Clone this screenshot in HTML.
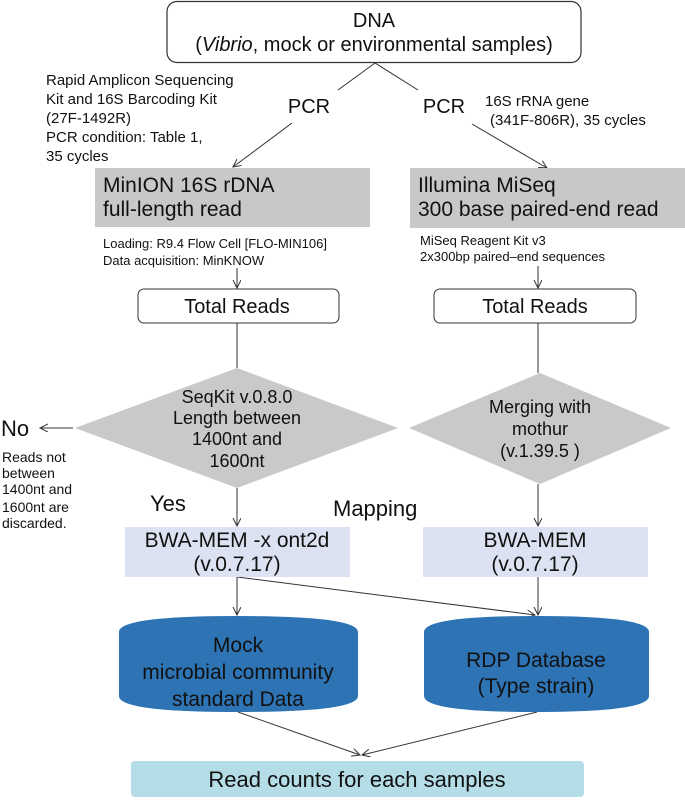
<!DOCTYPE html>
<html><head><meta charset="utf-8"><style>
body{margin:0;width:685px;height:799px;background:#fff;overflow:hidden}
svg text{font-family:"Liberation Sans","Noto Sans CJK JP",sans-serif;fill:#111}
</style></head><body>
<svg width="685" height="799" viewBox="0 0 685 799" xmlns="http://www.w3.org/2000/svg">
<defs><marker id="a" markerWidth="10" markerHeight="10" refX="8" refY="4" orient="auto" markerUnits="userSpaceOnUse"><path d="M0,0 L8,4 L0,8" fill="none" stroke="#333" stroke-width="1"/></marker></defs>
<g stroke="#333" stroke-width="1" fill="none">
<rect x="167" y="1.5" width="414" height="61" rx="10" stroke-width="1.2"/>
<line x1="375" y1="63" x2="338" y2="90"/><line x1="375" y1="63" x2="418" y2="90"/>
<line x1="292" y1="123" x2="233" y2="167" marker-end="url(#a)"/>
<line x1="472" y1="124" x2="547" y2="168" marker-end="url(#a)"/>
<line x1="237" y1="268" x2="237" y2="288" marker-end="url(#a)"/>
<line x1="538" y1="266" x2="538" y2="288" marker-end="url(#a)"/>
<rect x="138" y="289" width="201" height="34" rx="6"/>
<rect x="434" y="289" width="202" height="34" rx="6"/>
<line x1="237" y1="323" x2="237" y2="368"/><line x1="538" y1="323" x2="538" y2="373"/>
<line x1="73" y1="428" x2="40" y2="428" marker-end="url(#a)"/>
<line x1="237" y1="488" x2="237" y2="526" marker-end="url(#a)"/>
<line x1="538" y1="484" x2="538" y2="526" marker-end="url(#a)"/>
<line x1="237" y1="577" x2="237" y2="615" marker-end="url(#a)"/>
<line x1="538" y1="577" x2="538" y2="615" marker-end="url(#a)"/>
<line x1="237" y1="577" x2="535" y2="615" marker-end="url(#a)"/>
<line x1="238" y1="712" x2="360" y2="755" marker-end="url(#a)"/>
<line x1="537" y1="712" x2="362" y2="755" marker-end="url(#a)"/>
</g>
<rect x="95" y="168" width="275" height="59" fill="#c8c8c8"/>
<rect x="410" y="168" width="275" height="60" fill="#c8c8c8"/>
<polygon points="237,368 398,428 237,488 75,428" fill="#c9c9c9"/>
<polygon points="540,373 671,428 540,484 409,428" fill="#c9c9c9"/>
<rect x="125" y="527" width="225" height="50" fill="#dce2f1"/>
<rect x="423" y="527" width="225" height="50" fill="#dce2f1"/>
<path d="M119,632 Q119,616 238,616 Q358,616 358,632 L358,696 Q358,712 238,712 Q119,712 119,696 Z" fill="#2e74b5"/>
<path d="M424,632 Q424,616 536,616 Q649,616 649,632 L649,696 Q649,712 536,712 Q424,712 424,696 Z" fill="#2e74b5"/>
<rect x="131" y="761" width="453" height="36" rx="4" fill="#b4dde8"/>
<g font-size="20" text-anchor="middle">
<text x="374" y="27">DNA</text>
<text x="374" y="51">(<tspan font-style="italic">Vibrio</tspan>, mock or environmental samples)</text>
<text x="309" y="113">PCR</text><text x="444" y="113">PCR</text>
<text x="237" y="313">Total Reads</text><text x="535" y="313">Total Reads</text>
</g>
<g font-size="15">
<text x="46" y="85">Rapid Amplicon Sequencing</text>
<text x="46" y="104">Kit and 16S Barcoding Kit</text>
<text x="46" y="123">(27F-1492R)</text>
<text x="46" y="142">PCR condition: Table 1,</text>
<text x="46" y="161">35 cycles</text>
<text x="485" y="106">16S rRNA gene</text>
<text x="490" y="125">(341F-806R), 35 cycles</text>
</g>
<g font-size="21">
<text x="103" y="192">MinION 16S rDNA</text>
<text x="103" y="216">full-length read</text>
<text x="418" y="192">Illumina MiSeq</text>
<text x="418" y="216">300 base paired-end read</text>
</g>
<g font-size="13">
<text x="103" y="248">Loading: R9.4 Flow Cell [FLO-MIN106]</text>
<text x="103" y="265">Data acquisition: MinKNOW</text>
<text x="420" y="245">MiSeq Reagent Kit v3</text>
<text x="420" y="261">2x300bp paired–end sequences</text>
</g>
<g font-size="18" text-anchor="middle">
<text x="237" y="403">SeqKit v.0.8.0</text>
<text x="237" y="424">Length between</text>
<text x="237" y="445">1400nt and</text>
<text x="237" y="467">1600nt</text>
<text x="540" y="413">Merging with</text>
<text x="540" y="435">mothur</text>
<text x="540" y="457">(v.1.39.5 )</text>
</g>
<text x="1" y="436" font-size="22">No</text>
<g font-size="14">
<text x="2" y="462">Reads not</text>
<text x="2" y="478">between</text>
<text x="2" y="494">1400nt and</text>
<text x="2" y="512">1600nt are</text>
<text x="2" y="528">discarded.</text>
</g>
<text x="150" y="511" font-size="22">Yes</text>
<text x="333" y="516" font-size="22">Mapping</text>
<g font-size="21" text-anchor="middle">
<text x="237" y="547">BWA-MEM -x ont2d</text>
<text x="237" y="571">(v.0.7.17)</text>
<text x="535" y="547">BWA-MEM</text>
<text x="535" y="571">(v.0.7.17)</text>
</g>
<g font-size="21" text-anchor="middle" style="fill:#fff">
<text x="238" y="652" fill="#fff">Mock</text>
<text x="238" y="679" fill="#fff">microbial community</text>
<text x="238" y="706" fill="#fff">standard Data</text>
<text x="536" y="667" fill="#fff">RDP Database</text>
<text x="536" y="693" fill="#fff">(Type strain)</text>
</g>
<text x="357" y="787" font-size="22" text-anchor="middle">Read counts for each samples</text>
</svg>
</body></html>
